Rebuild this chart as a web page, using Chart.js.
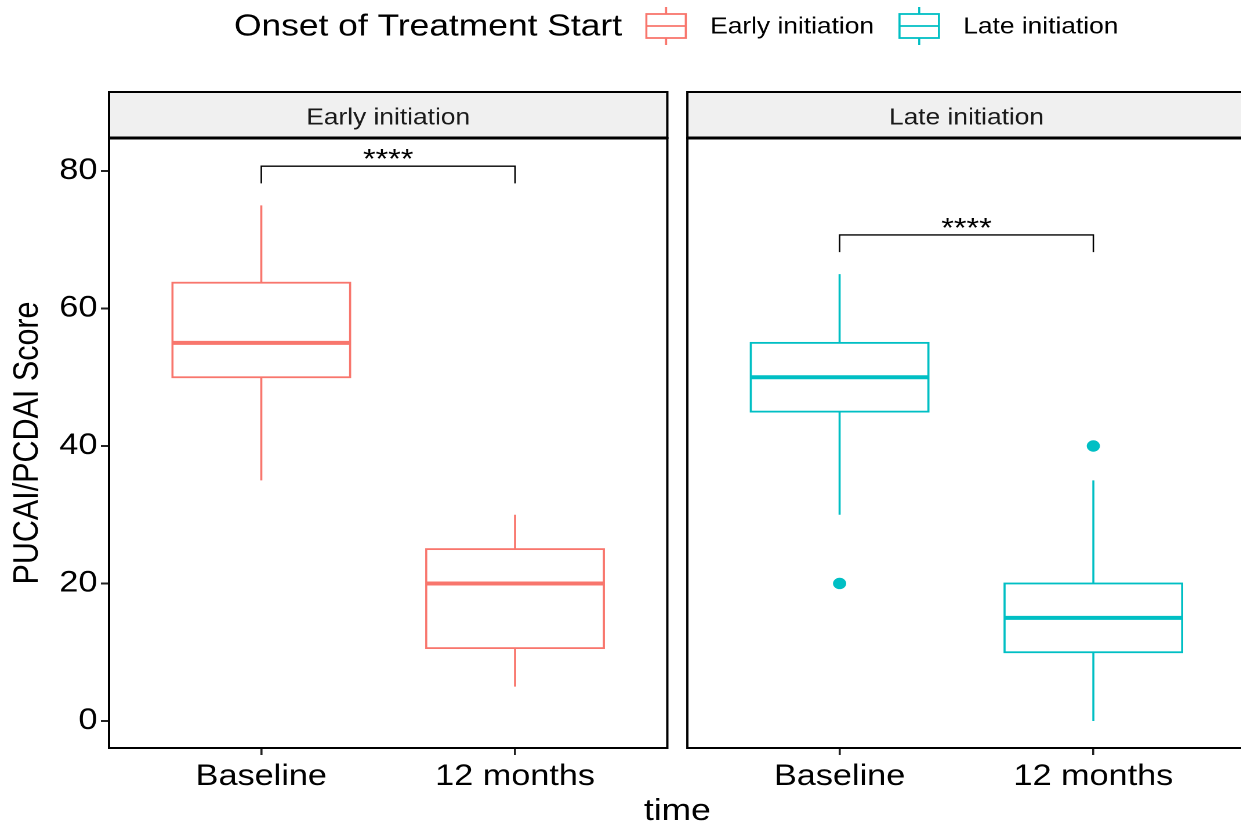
<!DOCTYPE html>
<html>
<head>
<meta charset="utf-8">
<script src="https://cdn.jsdelivr.net/npm/chart.js@4.4.0/dist/chart.umd.min.js"></script>
<style>
  html, body { margin: 0; padding: 0; background: #fff; overflow: hidden; }
  body { width: 1241px; height: 828px; }
  #wrap { position: absolute; left: 0; top: 0; width: 1080px; height: 828px; transform: scaleX(1.16); transform-origin: 0 0; }
</style>
</head>
<body>
<div id="wrap"><canvas id="boxChart"></canvas></div>
<script>
const facets = ['Early initiation', 'Late initiation'];
const timepoints = ['Baseline', '12 months'];
const facetColors = ['#F8766D', '#00BFC4'];
// [facet][timepoint]
const whiskerLow = [[35, 5], [30, 0]];
const q1 = [[50, 10.6], [45, 10]];
const medians = [[55, 20], [50, 15]];
const q3 = [[63.75, 25], [55, 20]];
const whiskerHigh = [[75, 30], [65, 35]];
const outliers = [[[], []], [[20], [40]]];
const bracketTop = [80.7, 70.7];
const bracketTip = [78.2, 68.2];
const sigLabels = ['****', '****'];
const yTicks = [0, 20, 40, 60, 80];

const PANEL_UNITS = 2.2;   // discrete axis runs 0.4 .. 2.6 in each panel
const GAP_UNITS = 0.079;
const BOX_W = 0.7;
const FONT = '"Liberation Sans", Arial, sans-serif';

const panelStart = f => 0.4 + f * (PANEL_UNITS + GAP_UNITS);
const xPos = (f, t) => panelStart(f) + 0.6 + t;

const xTickVals = [];
const xTickLabels = [];
facets.forEach((f, fi) => timepoints.forEach((t, ti) => {
  xTickVals.push(xPos(fi, ti));
  xTickLabels.push(t);
}));

const datasets = facets.map((f, fi) => ({
  label: f,
  data: timepoints.flatMap((t, ti) => outliers[fi][ti].map(v => ({ x: xPos(fi, ti), y: v }))),
  backgroundColor: facetColors[fi],
  borderColor: facetColors[fi],
  pointRadius: 5.2,
  pointHoverRadius: 5.2
}));

const facetPlugin = {
  id: 'facetBoxes',
  beforeDatasetsDraw(chart) {
    const { ctx, scales: { x, y } } = chart;
    ctx.save();
    facets.forEach((f, fi) => {
      ctx.strokeStyle = facetColors[fi];
      timepoints.forEach((t, ti) => {
        const cx = x.getPixelForValue(xPos(fi, ti));
        const x0 = x.getPixelForValue(xPos(fi, ti) - BOX_W / 2);
        const x1 = x.getPixelForValue(xPos(fi, ti) + BOX_W / 2);
        const yq1 = y.getPixelForValue(q1[fi][ti]);
        const yq3 = y.getPixelForValue(q3[fi][ti]);
        ctx.lineWidth = 1.8;
        ctx.beginPath();
        ctx.moveTo(cx, y.getPixelForValue(whiskerHigh[fi][ti]));
        ctx.lineTo(cx, yq3);
        ctx.moveTo(cx, yq1);
        ctx.lineTo(cx, y.getPixelForValue(whiskerLow[fi][ti]));
        ctx.stroke();
        ctx.strokeRect(x0, yq3, x1 - x0, yq1 - yq3);
        ctx.lineWidth = 4;
        const ym = y.getPixelForValue(medians[fi][ti]);
        ctx.beginPath();
        ctx.moveTo(x0, ym);
        ctx.lineTo(x1, ym);
        ctx.stroke();
      });
    });
    ctx.restore();
  },
  afterDraw(chart) {
    const { ctx, chartArea, scales: { x, y } } = chart;
    ctx.save();
    // panels and strips
    facets.forEach((f, fi) => {
      const l = x.getPixelForValue(panelStart(fi));
      const r = x.getPixelForValue(panelStart(fi) + PANEL_UNITS);
      ctx.strokeStyle = '#000';
      ctx.lineWidth = 2;
      ctx.strokeRect(l, chartArea.top, r - l, chartArea.bottom - chartArea.top);
      ctx.fillStyle = '#F0F0F0';
      ctx.fillRect(l, chartArea.top - 46, r - l, 46);
      ctx.lineWidth = 2;
      ctx.strokeRect(l, chartArea.top - 46, r - l, 46);
      ctx.lineWidth = 3;
      ctx.beginPath();
      ctx.moveTo(l, chartArea.top);
      ctx.lineTo(r, chartArea.top);
      ctx.stroke();
      ctx.fillStyle = '#1A1A1A';
      ctx.font = '22.7px ' + FONT;
      ctx.textAlign = 'center';
      ctx.textBaseline = 'middle';
      ctx.fillText(f, (l + r) / 2, chartArea.top - 20);

      // significance bracket
      const bx0 = x.getPixelForValue(xPos(fi, 0));
      const bx1 = x.getPixelForValue(xPos(fi, 1));
      const by = y.getPixelForValue(bracketTop[fi]);
      const bt = y.getPixelForValue(bracketTip[fi]);
      ctx.lineWidth = 1.3;
      ctx.beginPath();
      ctx.moveTo(bx0, bt);
      ctx.lineTo(bx0, by);
      ctx.lineTo(bx1, by);
      ctx.lineTo(bx1, bt);
      ctx.stroke();
      ctx.fillStyle = '#000';
      ctx.font = '28px ' + FONT;
      ctx.textBaseline = 'alphabetic';
      ctx.fillText(sigLabels[fi], (bx0 + bx1) / 2, by + 2);
    });

    // legend
    const ly = 26;
    let lx = 201.7;
    ctx.textAlign = 'left';
    ctx.textBaseline = 'middle';
    ctx.fillStyle = '#000';
    ctx.font = '30.5px ' + FONT;
    ctx.fillText('Onset of Treatment Start', lx, ly + 1);
    lx += ctx.measureText('Onset of Treatment Start').width + 21;
    facets.forEach((f, fi) => {
      const kw = 34;
      ctx.strokeStyle = facetColors[fi];
      ctx.lineWidth = 1.8;
      ctx.beginPath();
      ctx.moveTo(lx + kw / 2, ly - 19);
      ctx.lineTo(lx + kw / 2, ly - 12);
      ctx.moveTo(lx + kw / 2, ly + 12);
      ctx.lineTo(lx + kw / 2, ly + 19);
      ctx.stroke();
      ctx.strokeRect(lx, ly - 12, kw, 24);
      ctx.beginPath();
      ctx.moveTo(lx, ly);
      ctx.lineTo(lx + kw, ly);
      ctx.stroke();
      lx += kw + 21;
      ctx.fillStyle = '#000';
      ctx.font = '22.7px ' + FONT;
      ctx.fillText(f, lx, ly + 1);
      lx += ctx.measureText(f).width + 22;
    });
    ctx.restore();
  }
};

new Chart(document.getElementById('boxChart'), {
  type: 'scatter',
  data: { datasets },
  options: {
    responsive: true,
    maintainAspectRatio: false,
    devicePixelRatio: 2,
    animation: false,
    layout: { padding: { top: 138, left: 0, right: 6, bottom: 0 } },
    plugins: { legend: { display: false }, tooltip: { enabled: false } },
    scales: {
      x: {
        type: 'linear',
        min: 0.4,
        max: panelStart(facets.length - 1) + PANEL_UNITS,
        afterBuildTicks: s => { s.ticks = xTickVals.map(v => ({ value: v })); },
        afterFit: s => { s.height = 80; },
        ticks: {
          callback: (v, i) => xTickLabels[i],
          font: { family: FONT, size: 29.5 },
          color: '#000',
          padding: 4,
          maxRotation: 0,
          autoSkip: false
        },
        grid: { drawOnChartArea: false, drawTicks: true, tickLength: 7, color: '#222', lineWidth: 1.8 },
        border: { display: false },
        title: { display: true, text: 'time', font: { family: FONT, size: 30.5 }, color: '#000', padding: { top: 0, bottom: -2 } }
      },
      y: {
        min: -3.93,
        max: 84.8,
        afterBuildTicks: s => { s.ticks = yTicks.map(v => ({ value: v })); },
        afterFit: s => { s.width = 94; },
        ticks: { font: { family: FONT, size: 29.5 }, color: '#000', padding: 3 },
        grid: { drawOnChartArea: false, drawTicks: true, tickLength: 7, color: '#222', lineWidth: 2 },
        border: { display: false },
        title: { display: true, text: 'PUCAI/PCDAI Score', font: { family: FONT, size: 30.5 }, color: '#000', padding: { top: 6, bottom: 0 } }
      }
    }
  },
  plugins: [facetPlugin]
});
</script>
</body>
</html>
